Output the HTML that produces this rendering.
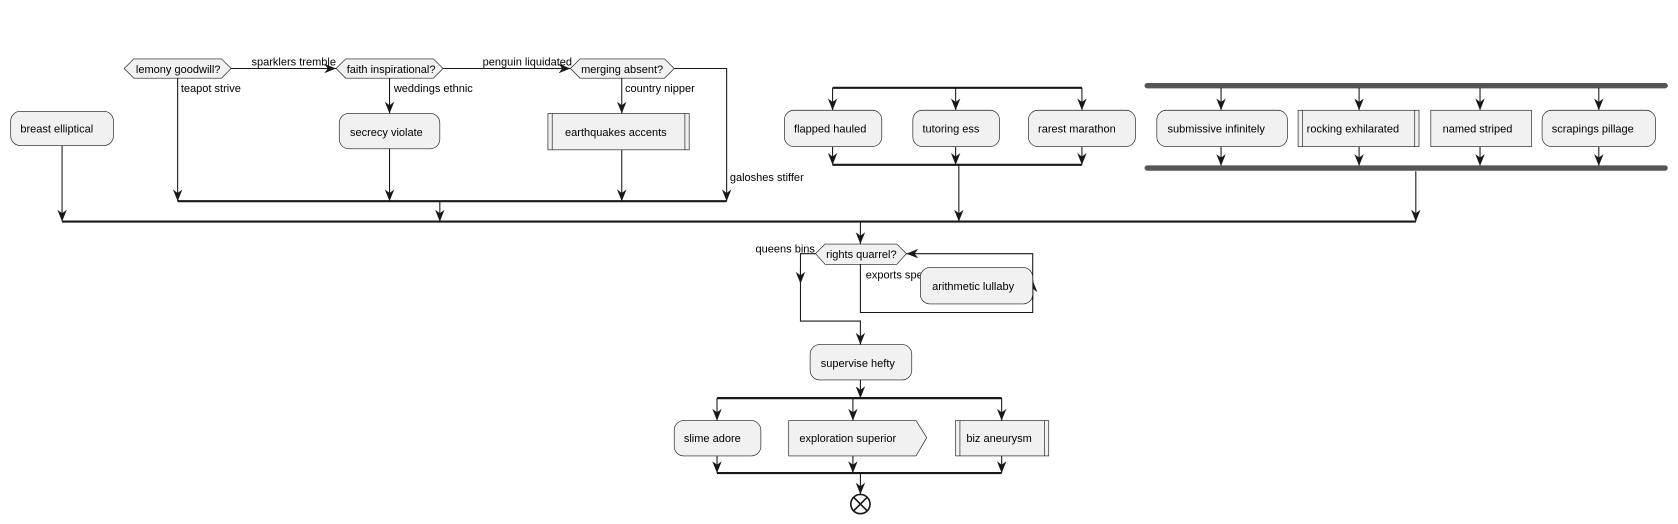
<!DOCTYPE html>
<html><head><meta charset="utf-8"><style>
html,body{margin:0;padding:0;background:#fff;}
svg{display:block;}
text{font-family:"Liberation Sans",sans-serif;font-size:10.3px;fill:#000;}
.b{fill:#f1f1f1;stroke:#181818;stroke-width:0.6;}
.l{stroke:#181818;stroke-width:1;fill:none;}
.bar{stroke:#181818;stroke-width:2;}
.tb{stroke:#555;stroke-width:5;stroke-linecap:round;}
</style></head><body>
<svg width="1678" height="524" viewBox="0 0 1568 489.6" xmlns="http://www.w3.org/2000/svg">
<defs>
<marker id="a" viewBox="0 0 10 10" refX="10" refY="5" markerWidth="11" markerHeight="11" markerUnits="userSpaceOnUse" orient="auto">
<path d="M0,1 L10,5 L0,9 L3,5 Z" fill="#181818"/></marker>
</defs>
<polygon class="b" points="116,64 125,55 207,55 216,64 207,73 125,73"/>
<text x="127" y="68">lemony goodwill?</text>
<polygon class="b" points="314,64 323,55 405,55 414,64 405,73 323,73"/>
<text x="324" y="68">faith inspirational?</text>
<polygon class="b" points="533,64 542,55 621,55 630,64 621,73 542,73"/>
<text x="543" y="68">merging absent?</text>
<line class="l" x1="216" y1="64" x2="314" y2="64" marker-end="url(#a)"/>
<text x="235" y="61">sparklers tremble</text>
<line class="l" x1="414" y1="64" x2="533" y2="64" marker-end="url(#a)"/>
<text x="451" y="61">penguin liquidated</text>
<polyline class="l" points="630,64 679,64 679,188" marker-end="url(#a)"/>
<text x="682" y="169">galoshes stiffer</text>
<line class="l" x1="166" y1="73" x2="166" y2="188" marker-end="url(#a)"/>
<text x="169" y="86">teapot strive</text>
<line class="l" x1="364" y1="73" x2="364" y2="106" marker-end="url(#a)"/>
<text x="368" y="86">weddings ethnic</text>
<rect class="b" x="317" y="106" width="94" height="33" rx="9"/>
<text x="327" y="127">secrecy violate</text>
<line class="l" x1="364" y1="139" x2="364" y2="188" marker-end="url(#a)"/>
<line class="l" x1="581" y1="73" x2="581" y2="106" marker-end="url(#a)"/>
<text x="584" y="86">country nipper</text>
<rect class="b" x="512" y="106" width="132" height="34"/>
<line class="l" x1="516" y1="106" x2="516" y2="140" style="stroke-width:0.6"/>
<line class="l" x1="640" y1="106" x2="640" y2="140" style="stroke-width:0.6"/>
<text x="528" y="127">earthquakes accents</text>
<line class="l" x1="581" y1="140" x2="581" y2="188" marker-end="url(#a)"/>
<line class="bar" x1="166" y1="188" x2="679" y2="188"/>
<line class="l" x1="411" y1="188" x2="411" y2="207" marker-end="url(#a)"/>
<rect class="b" x="10" y="104" width="96" height="32" rx="9"/>
<text x="19" y="124">breast elliptical</text>
<line class="l" x1="58" y1="136" x2="58" y2="207" marker-end="url(#a)"/>
<line class="bar" x1="778" y1="82" x2="1011" y2="82"/>
<line class="l" x1="778" y1="82" x2="778" y2="103" marker-end="url(#a)"/>
<line class="l" x1="893" y1="82" x2="893" y2="103" marker-end="url(#a)"/>
<line class="l" x1="1011" y1="82" x2="1011" y2="103" marker-end="url(#a)"/>
<rect class="b" x="733" y="103" width="91" height="34" rx="9"/><text x="742" y="124">flapped hauled</text>
<rect class="b" x="853" y="103" width="81" height="34" rx="9"/><text x="862" y="124">tutoring ess</text>
<rect class="b" x="961" y="103" width="100" height="34" rx="9"/><text x="970" y="124">rarest marathon</text>
<line class="l" x1="778" y1="137" x2="778" y2="154" marker-end="url(#a)"/>
<line class="l" x1="893" y1="137" x2="893" y2="154" marker-end="url(#a)"/>
<line class="l" x1="1011" y1="137" x2="1011" y2="154" marker-end="url(#a)"/>
<line class="bar" x1="778" y1="154" x2="1011" y2="154"/>
<line class="l" x1="896" y1="154" x2="896" y2="207" marker-end="url(#a)"/>
<line class="tb" x1="1072" y1="80" x2="1556" y2="80"/>
<line class="l" x1="1141" y1="82" x2="1141" y2="103" marker-end="url(#a)"/>
<line class="l" x1="1270" y1="82" x2="1270" y2="103" marker-end="url(#a)"/>
<line class="l" x1="1383" y1="82" x2="1383" y2="103" marker-end="url(#a)"/>
<line class="l" x1="1494" y1="82" x2="1494" y2="103" marker-end="url(#a)"/>
<rect class="b" x="1081" y="103" width="122" height="34" rx="9"/><text x="1091" y="124">submissive infinitely</text>
<rect class="b" x="1213" y="103" width="113" height="34"/>
<line class="l" x1="1217" y1="103" x2="1217" y2="137" style="stroke-width:0.6"/>
<line class="l" x1="1322" y1="103" x2="1322" y2="137" style="stroke-width:0.6"/>
<text x="1221" y="124">rocking exhilarated</text>
<rect class="b" x="1337" y="103" width="94" height="34"/><text x="1348" y="124">named striped</text>
<rect class="b" x="1441" y="103" width="106" height="34" rx="9"/><text x="1450" y="124">scrapings pillage</text>
<line class="l" x1="1141" y1="137" x2="1141" y2="155" marker-end="url(#a)"/>
<line class="l" x1="1270" y1="137" x2="1270" y2="155" marker-end="url(#a)"/>
<line class="l" x1="1383" y1="137" x2="1383" y2="155" marker-end="url(#a)"/>
<line class="l" x1="1494" y1="137" x2="1494" y2="155" marker-end="url(#a)"/>
<line class="tb" x1="1072" y1="157" x2="1556" y2="157"/>
<line class="l" x1="1323" y1="160" x2="1323" y2="207" marker-end="url(#a)"/>
<line class="bar" x1="58" y1="207" x2="1323" y2="207"/>
<line class="l" x1="804" y1="207" x2="804" y2="228" marker-end="url(#a)"/>
<polygon class="b" points="762,237 771,228 838,228 847,237 838,247 771,247"/>
<text x="772" y="241">rights quarrel?</text>
<text x="706" y="236">queens bins</text>
<polyline class="l" points="762,237 748,237 748,300 804,300 804,322" marker-end="url(#a)"/>
<line class="l" x1="748" y1="250" x2="748" y2="265" marker-end="url(#a)"/>
<polyline class="l" points="804,247 804,292 965,292 965,237 847,237" marker-end="url(#a)"/>
<line class="l" x1="965" y1="280" x2="965" y2="262" marker-end="url(#a)"/>
<text x="809" y="260">exports spe</text>
<rect class="b" x="860" y="250" width="105" height="34" rx="9"/>
<text x="871" y="271">arithmetic lullaby</text>
<rect class="b" x="757" y="322" width="95" height="33" rx="9"/>
<text x="767" y="343">supervise hefty</text>
<line class="l" x1="804" y1="355" x2="804" y2="372" marker-end="url(#a)"/>
<line class="bar" x1="670" y1="372" x2="936" y2="372"/>
<line class="l" x1="670" y1="372" x2="670" y2="393" marker-end="url(#a)"/>
<line class="l" x1="797" y1="372" x2="797" y2="393" marker-end="url(#a)"/>
<line class="l" x1="936" y1="372" x2="936" y2="393" marker-end="url(#a)"/>
<rect class="b" x="630" y="393" width="81" height="33" rx="9"/><text x="639" y="413">slime adore</text>
<polygon class="b" points="737,393 856,393 866,409 856,426 737,426"/><text x="747" y="413">exploration superior</text>
<rect class="b" x="893" y="393" width="87" height="33"/>
<line class="l" x1="897" y1="393" x2="897" y2="426" style="stroke-width:0.6"/>
<line class="l" x1="976" y1="393" x2="976" y2="426" style="stroke-width:0.6"/>
<text x="903" y="413">biz aneurysm</text>
<line class="l" x1="670" y1="426" x2="670" y2="442" marker-end="url(#a)"/>
<line class="l" x1="797" y1="426" x2="797" y2="442" marker-end="url(#a)"/>
<line class="l" x1="936" y1="426" x2="936" y2="442" marker-end="url(#a)"/>
<line class="bar" x1="670" y1="442" x2="936" y2="442"/>
<line class="l" x1="804" y1="442" x2="804" y2="462" marker-end="url(#a)"/>
<circle cx="804" cy="471" r="9" fill="#fff" stroke="#181818" stroke-width="1.5"/>
<line x1="797.6" y1="464.6" x2="810.4" y2="477.4" stroke="#181818" stroke-width="1.5"/>
<line x1="810.4" y1="464.6" x2="797.6" y2="477.4" stroke="#181818" stroke-width="1.5"/>
</svg>
</body></html>
